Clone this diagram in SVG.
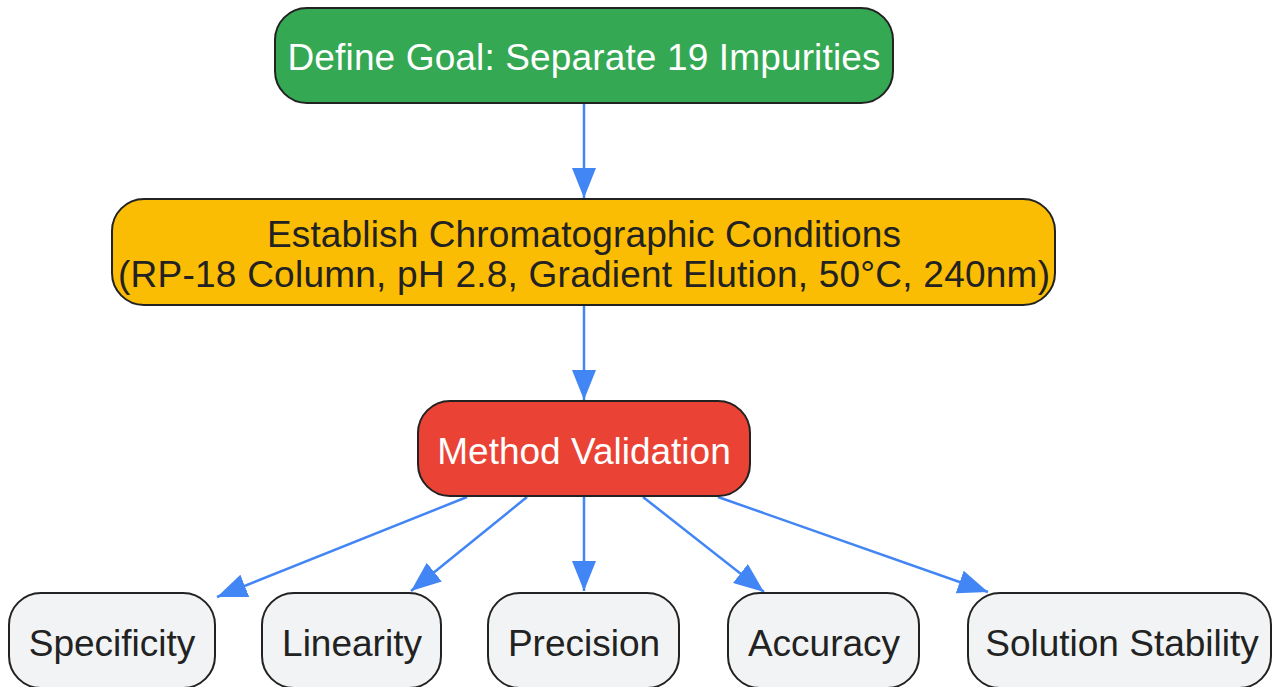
<svg xmlns="http://www.w3.org/2000/svg" width="1273" height="687" viewBox="0 0 1273 687">
<style>
.node rect{stroke:#222222;stroke-width:2}
.lbl{font-family:"Liberation Sans",Arial,sans-serif;font-size:37px;text-anchor:middle;dominant-baseline:central}
.edge{stroke:#4285f4;stroke-width:2.5;fill:none;marker-end:url(#arr)}
</style>
<defs>
<marker id="arr" markerUnits="userSpaceOnUse" viewBox="0 0 30 24" refX="30" refY="12" markerWidth="30" markerHeight="24" orient="auto">
<path d="M0,0 L30,12 L0,24 Z" fill="#4285f4"/>
</marker>
</defs>
<rect width="1273" height="687" fill="#ffffff"/>
<g id="connectors">
<line class="edge" x1="584" y1="104" x2="584" y2="198"/>
<line class="edge" x1="584" y1="306" x2="584" y2="400"/>
<line class="edge" x1="467" y1="497" x2="217" y2="597"/>
<line class="edge" x1="527" y1="497" x2="411" y2="591"/>
<line class="edge" x1="584" y1="497" x2="584" y2="591"/>
<line class="edge" x1="643" y1="497" x2="764" y2="592"/>
<line class="edge" x1="718" y1="497" x2="988" y2="592"/>
</g>
<g id="goal" class="node">
<rect x="275" y="8" width="618" height="95" rx="32" fill="#34a853"/>
<text class="lbl" x="584" y="57" fill="#ffffff" textLength="593">Define Goal: Separate 19 Impurities</text>
</g>
<g id="conditions" class="node">
<rect x="112" y="199" width="943" height="106" rx="32" fill="#fbbc04"/>
<text class="lbl" x="584" y="234" fill="#222222" textLength="634">Establish Chromatographic Conditions</text>
<text class="lbl" x="584" y="274" fill="#222222" textLength="932">(RP-18 Column, pH 2.8, Gradient Elution, 50°C, 240nm)</text>
</g>
<g id="validation" class="node">
<rect x="418" y="401" width="332" height="95" rx="32" fill="#ea4335"/>
<text class="lbl" x="584" y="451" fill="#ffffff">Method Validation</text>
</g>
<g id="specificity" class="node">
<rect x="9" y="593" width="206" height="95" rx="32" fill="#f1f3f4"/>
<text class="lbl" x="112" y="643" fill="#222222">Specificity</text>
</g>
<g id="linearity" class="node">
<rect x="262" y="593" width="179" height="95" rx="32" fill="#f1f3f4"/>
<text class="lbl" x="352" y="643" fill="#222222">Linearity</text>
</g>
<g id="precision" class="node">
<rect x="488" y="593" width="191" height="95" rx="32" fill="#f1f3f4"/>
<text class="lbl" x="584" y="643" fill="#222222">Precision</text>
</g>
<g id="accuracy" class="node">
<rect x="728" y="593" width="191" height="95" rx="32" fill="#f1f3f4"/>
<text class="lbl" x="824" y="643" fill="#222222">Accuracy</text>
</g>
<g id="stability" class="node">
<rect x="968" y="593" width="303" height="95" rx="32" fill="#f1f3f4"/>
<text class="lbl" x="1122" y="643" fill="#222222">Solution Stability</text>
</g>
</svg>
